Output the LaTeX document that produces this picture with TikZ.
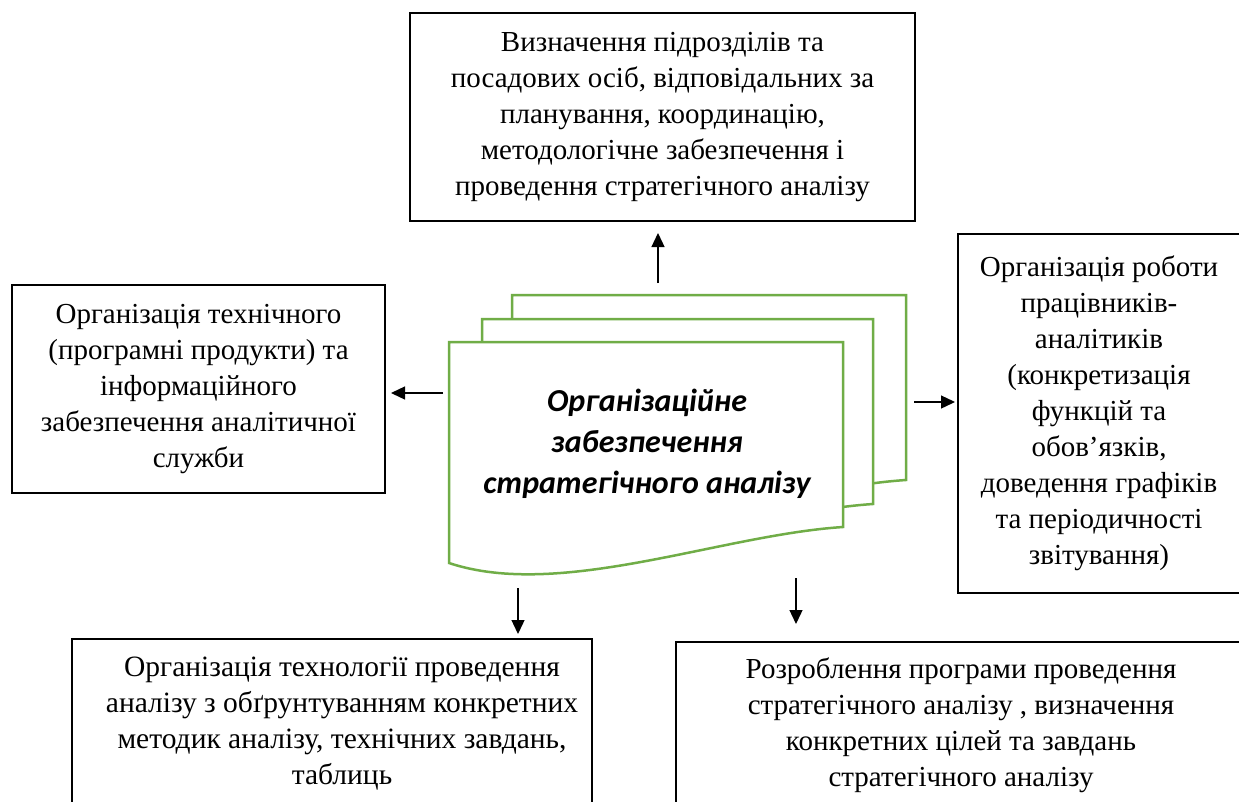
\documentclass[tikz,border=0pt]{standalone}
\usepackage{fontspec}
\setmainfont{Liberation Serif}
\newfontfamily\calib{Carlito}
\usetikzlibrary{arrows.meta}
\definecolor{docgreen}{RGB}{112,173,71}
\begin{document}
\begin{tikzpicture}[x=1pt,y=-1pt,
  box/.style={draw=black, line width=1.2pt, fill=white, inner sep=0pt, align=center,
    font=\fontsize{29}{36}\selectfont},
  txt/.style={inner sep=0pt, align=center, font=\fontsize{29.5}{36}\selectfont},
  docshape/.style={draw=docgreen, line width=2.5pt, fill=white, line join=miter},
  arr/.style={draw=black, line width=1.3pt, -{Triangle[length=14pt,width=13pt]}},
]
\useasboundingbox (0,0) rectangle (1239,801);
\fill[white] (0,0) rectangle (1239,801);

% boxes
\node[box, minimum width=505pt, minimum height=208pt] (top) at (662.5,117)
  {Визначення підрозділів та\\посадових осіб, відповідальних за\\планування, координацію,\\методологічне забезпечення і\\проведення стратегічного аналізу};
\node[box, minimum width=373pt, minimum height=208pt] (left) at (198.5,389)
  {Організація технічного\\(програмні продукти) та\\інформаційного\\забезпечення аналітичної\\служби};
\node[box, minimum width=282pt, minimum height=359pt] (right) at (1099,413.5)
  {Організація роботи\\працівників-\\аналітиків\\(конкретизація\\функцій та\\обов’язків,\\доведення графіків\\та періодичності\\звітування)};
\node[box, minimum width=520pt, minimum height=170pt] (botleft) at (332,724) {};
\node[txt] (botlefttext) at (342,724)
  {Організація технології проведення\\аналізу з обґрунтуванням конкретних\\методик аналізу, технічних завдань,\\таблиць};
\node[box, minimum width=570pt, minimum height=166pt] (botright) at (961,725)
  {Розроблення програми проведення\\стратегічного аналізу , визначення\\конкретних цілей та завдань\\стратегічного аналізу};

% multi-document shape
\draw[docshape, shift={(512,295)}] (0,0) -- (394,0) -- (394,185)
  .. controls (271,193) and (111,258) .. (0,221) -- cycle;
\draw[docshape, shift={(482,319)}] (0,0) -- (391,0) -- (391,185)
  .. controls (269,193) and (110,258) .. (0,221) -- cycle;
\draw[docshape, shift={(449,342)}] (0,0) -- (394,0) -- (394,185)
  .. controls (271,193) and (111,258) .. (0,221) -- cycle;
\node[font=\calib\bfseries\itshape\fontsize{32}{41}\selectfont, align=center] (doc) at (647,444)
  {Організаційне\\забезпечення\\стратегічного аналізу};

% arrows
\coordinate (uS) at (658,283); \coordinate (uE) at (658,233);
\coordinate (lS) at (443,393); \coordinate (lE) at (391,393);
\coordinate (rS) at (914,402); \coordinate (rE) at (955,402);
\coordinate (d1S) at (518,588); \coordinate (d1E) at (518,634);
\coordinate (d2S) at (796,578); \coordinate (d2E) at (796,624);
\draw[arr] (uS) -- (uE);
\draw[arr] (lS) -- (lE);
\draw[arr] (rS) -- (rE);
\draw[arr] (d1S) -- (d1E);
\draw[arr] (d2S) -- (d2E);
\end{tikzpicture}
\end{document}
